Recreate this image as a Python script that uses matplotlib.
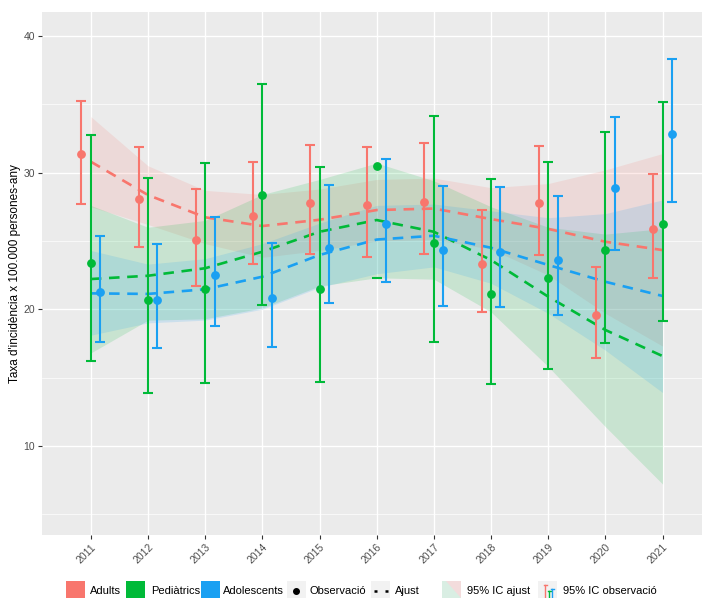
import matplotlib.pyplot as plt
from matplotlib.patches import Rectangle, Polygon
from matplotlib.lines import Line2D
from matplotlib.ticker import MultipleLocator
import numpy as np

plt.rcParams['font.family'] = ['Liberation Sans', 'DejaVu Sans']

years = np.arange(2011, 2022)
nan = np.nan

# observed incidence rate with 95% CI
adults_obs = [31.34, 28.04, 25.04, 26.85, 27.80, 27.60, 27.87, 23.31, 27.75, 19.55, 25.87]
adults_lo = [27.72, 24.58, 21.72, 23.29, 24.04, 23.82, 24.04, 19.82, 23.95, 16.43, 22.31]
adults_hi = [35.26, 31.87, 28.78, 30.80, 32.00, 31.87, 32.19, 27.24, 31.95, 23.07, 29.88]

peds_obs = [23.40, 20.67, 21.50, 28.34, 21.48, 30.46, 24.87, 21.09, 22.26, 24.33, 26.26]
peds_lo = [16.21, 13.84, 14.57, 20.28, 14.69, 22.26, 17.60, 14.52, 15.60, 17.55, 19.16]
peds_hi = [32.78, 29.60, 30.68, 36.50, 30.39, nan, 34.17, 29.55, 30.78, 32.95, 35.19]

adol_obs = [21.24, 20.70, 22.50, 20.80, 24.50, 26.24, 24.36, 24.21, 23.60, 28.90, 32.80]
adol_lo = [17.62, 17.16, 18.77, 17.21, 20.43, 21.99, 20.26, 20.14, 19.58, 24.36, 27.87]
adol_hi = [25.38, 24.77, 26.73, 24.87, 29.11, 31.02, 29.02, 28.92, 28.29, 34.05, 38.32]

# fitted trend with 95% CI
adults_fit = [30.80, 28.36, 26.73, 26.09, 26.55, 27.26, 27.37, 26.60, 25.88, 24.94, 24.33]
adults_fit_lo = [27.50, 26.20, 24.80, 23.80, 24.30, 25.00, 25.10, 24.40, 22.50, 19.70, 17.30]
adults_fit_hi = [34.10, 30.50, 28.70, 28.40, 28.80, 29.50, 29.60, 28.90, 29.20, 30.20, 31.40]

peds_fit = [22.21, 22.45, 23.00, 24.21, 25.67, 26.53, 25.67, 23.60, 20.92, 18.48, 16.57]
peds_fit_lo = [16.80, 19.20, 19.30, 20.10, 21.70, 22.30, 22.20, 19.80, 15.80, 11.40, 7.20]
peds_fit_hi = [27.60, 26.00, 26.50, 28.40, 29.50, 30.70, 29.40, 27.50, 26.00, 25.50, 25.90]

adol_fit = [21.16, 21.12, 21.46, 22.38, 23.97, 25.10, 25.38, 24.50, 23.24, 22.01, 20.97]
adol_fit_lo = [18.10, 19.00, 19.20, 20.00, 21.60, 22.60, 23.10, 21.90, 19.70, 17.00, 13.90]
adol_fit_hi = [24.30, 23.30, 23.70, 24.80, 26.30, 27.60, 27.70, 27.20, 26.70, 27.00, 28.00]

groups = ['Adults', 'Pediàtrics', 'Adolescents']
colors = ['#F8766D', '#00BA38', '#1AA0F2']
offsets = [-0.165, 0.0, 0.165]

obs = [adults_obs, peds_obs, adol_obs]
obs_lo = [adults_lo, peds_lo, adol_lo]
obs_hi = [adults_hi, peds_hi, adol_hi]
fit = [adults_fit, peds_fit, adol_fit]
fit_lo = [adults_fit_lo, peds_fit_lo, adol_fit_lo]
fit_hi = [adults_fit_hi, peds_fit_hi, adol_fit_hi]

W, H = 704, 598
fig = plt.figure(figsize=(W / 100, H / 100), dpi=100)
# panel placed in pixel terms: left 42, right 702, top 12, bottom 535
ax = fig.add_axes([42 / W, (H - 535) / H, 660 / W, 523 / H])
ax.set_facecolor('#EBEBEB')
for s in ax.spines.values():
    s.set_visible(False)

for i in range(3):
    ax.fill_between(years, fit_lo[i], fit_hi[i], color=colors[i], alpha=0.15, lw=0, zorder=1)
for i in range(3):
    ax.plot(years, fit[i], color=colors[i], lw=1.9, dashes=(4.0, 2.9), zorder=2)
for i in range(3):
    x = years + offsets[i]
    ax.vlines(x, obs_lo[i], obs_hi[i], color=colors[i], lw=1.5, zorder=3)
    ax.plot(x, obs_lo[i], ls='none', marker='_', ms=7, mew=1.5, color=colors[i], zorder=3)
    ax.plot(x, obs_hi[i], ls='none', marker='_', ms=7, mew=1.5, color=colors[i], zorder=3)
    ax.plot(x, obs[i], ls='none', marker='o', ms=5.3, color=colors[i], zorder=4)

ax.set_xlim(2010.146, 2021.69)
ax.set_ylim(3.47, 41.76)
ax.set_xticks(years)
ax.set_xticklabels([str(y) for y in years], rotation=45, ha='right', va='top',
                   rotation_mode='anchor', fontsize=7.5, color='#4D4D4D')
ax.yaxis.set_major_locator(MultipleLocator(10))
ax.yaxis.set_minor_locator(MultipleLocator(5))
ax.tick_params(axis='y', labelsize=7.5, labelcolor='#4D4D4D')
ax.tick_params(which='major', length=3, width=0.8, color='#333333', pad=2)
ax.tick_params(which='minor', length=0)
ax.grid(which='major', color='white', lw=1.0)
ax.grid(which='minor', axis='y', color='white', lw=0.5)
ax.set_axisbelow(True)
ax.set_ylabel("Taxa d'incidència x 100.000 persones-any", fontsize=8.5)
ax.yaxis.set_label_coords(-0.032, 0.5)


# legend row along the bottom edge, in pixel coordinates
def fx(px):
    return px / W


def fy(py):
    return (H - py) / H


key_top, key_h, ty = 581, 20, 591


def key_box(x0, face, alpha=1.0):
    fig.add_artist(Rectangle((fx(x0), fy(key_top + key_h)), 19 / W, key_h / H,
                             transform=fig.transFigure, facecolor=face, alpha=alpha, lw=0))


for x0, c, lab, tx in [(66, colors[0], groups[0], 90), (126, colors[1], groups[1], 151),
                       (201, colors[2], groups[2], 223)]:
    key_box(x0, c)
    fig.text(fx(tx), fy(ty), lab, fontsize=8, va='center', ha='left')

key_box(287, '#F2F2F2')
fig.add_artist(Line2D([fx(296)], [fy(ty)], marker='o', ms=4, color='black',
                      transform=fig.transFigure))
fig.text(fx(310), fy(ty), 'Observació', fontsize=8, va='center', ha='left')

key_box(371, '#F2F2F2')
fig.add_artist(Line2D([fx(374), fx(388)], [fy(ty), fy(ty)], color='black', lw=1.8,
                      dashes=(1.2, 3.2), transform=fig.transFigure))
fig.text(fx(395), fy(ty), 'Ajust', fontsize=8, va='center', ha='left')

# ribbon key: pale mint with a pink wedge
key_box(442, '#D9EEE3')
fig.add_artist(Polygon([(fx(446), fy(581)), (fx(461), fy(581)), (fx(461), fy(598))],
                       closed=True, transform=fig.transFigure, facecolor='#F3DCDC', lw=0))
fig.text(fx(467), fy(ty), '95% IC ajust', fontsize=8, va='center', ha='left')

key_box(538, '#F2F2F2')
for px, c, top in [(545, colors[0], 585), (549, colors[1], 591), (552, colors[2], 589)]:
    fig.add_artist(Line2D([fx(px), fx(px)], [fy(top), fy(600)], color=c, lw=1.0,
                          transform=fig.transFigure))
    fig.add_artist(Line2D([fx(px - 1.5), fx(px + 1.5)], [fy(top), fy(top)], color=c, lw=1.0,
                          transform=fig.transFigure))
fig.text(fx(563), fy(ty), '95% IC observació', fontsize=8, va='center', ha='left')

fig.savefig('out.png', dpi=100)
